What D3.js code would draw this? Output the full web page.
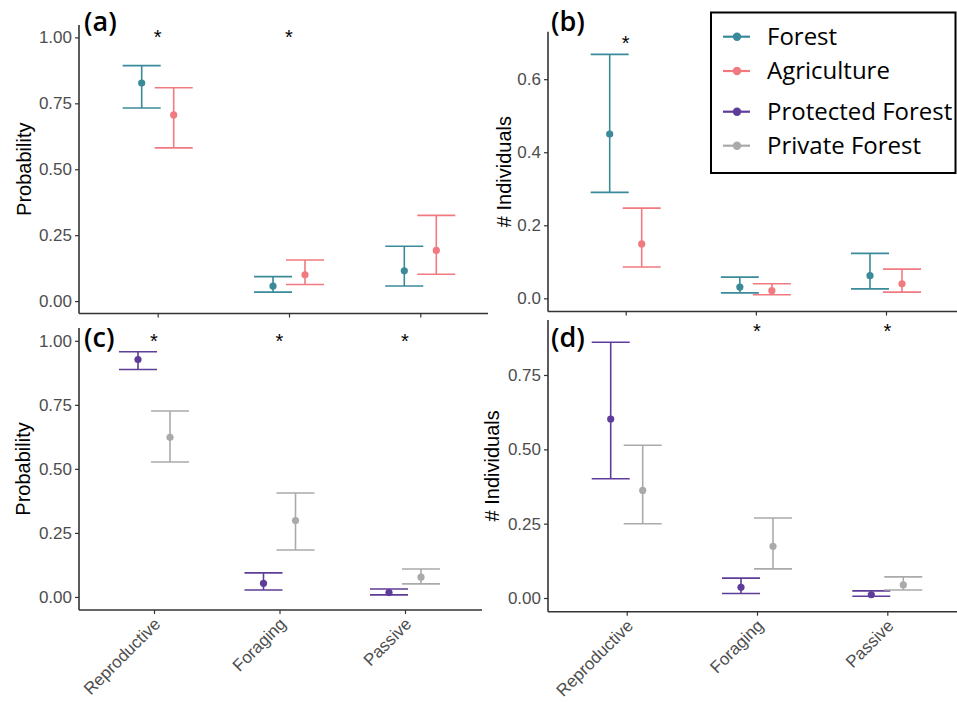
<!DOCTYPE html>
<html>
<head>
<meta charset="utf-8">
<script src="https://cdn.jsdelivr.net/npm/d3@7"></script>
<style>
  body { margin: 0; background: #fff; }
  svg { display: block; }
</style>
</head>
<body>
<svg width="957" height="702"></svg>
<script>
// categories on the x axis
const categories = ["Reproductive", "Foraging", "Passive"];

// each entry: [estimate, lower CI, upper CI]
const probForest = [[0.827, 0.732, 0.893], [0.057, 0.034, 0.093], [0.115, 0.057, 0.208]];
const probAgri = [[0.706, 0.581, 0.809], [0.100, 0.063, 0.156], [0.192, 0.102, 0.325]];
const indivForest = [[0.450, 0.290, 0.668], [0.031, 0.015, 0.058], [0.062, 0.026, 0.123]];
const indivAgri = [[0.149, 0.086, 0.247], [0.021, 0.010, 0.040], [0.040, 0.017, 0.080]];
const probProtected = [[0.927, 0.888, 0.957], [0.053, 0.027, 0.094], [0.017, 0.008, 0.031]];
const probPrivate = [[0.623, 0.527, 0.726], [0.298, 0.183, 0.406], [0.077, 0.051, 0.109]];
const indivProtected = [[0.602, 0.401, 0.860], [0.036, 0.015, 0.067], [0.011, 0.006, 0.024]];
const indivPrivate = [[0.362, 0.250, 0.514], [0.174, 0.098, 0.269], [0.044, 0.027, 0.071]];

// significance stars per category
const sigA = [true, true, false];
const sigB = [true, false, false];
const sigC = [true, true, true];
const sigD = [false, true, true];

// y tick values
const ticksProb = [0, 0.25, 0.5, 0.75, 1];
const ticksIndivB = [0, 0.2, 0.4, 0.6];
const ticksIndivD = [0, 0.25, 0.5, 0.75];

const legendLabels = ["Forest", "Agriculture", "Protected Forest", "Private Forest"];
const colors = {
    "Forest": "#3a8a9a",
    "Agriculture": "#f07a7f",
    "Protected Forest": "#5e3c99",
    "Private Forest": "#aaaaaa"
};

const svg = d3.select("svg");

const panels = [
    { tag: "(a)", title: "Probability", series: [["Forest", probForest], ["Agriculture", probAgri]],
      sig: sigA, starY: 1.016, ticks: ticksProb, fmt: ".2f", yDomain: [-0.047, 1.047],
      left: 79, right: 488, top: 25, bottom: 313.5, cats: [157.7, 420.3], titleX: 31,
      tagX: 84, tagY: 31 },
    { tag: "(b)", title: "# Individuals", series: [["Forest", indivForest], ["Agriculture", indivAgri]],
      sig: sigB, starY: 0.71, ticks: ticksIndivB, fmt: ".1f", yDomain: [-0.036, 0.73],
      left: 548, right: 957, top: 31.7, bottom: 311.5, cats: [625.7, 886], titleX: 511,
      tagX: 551, tagY: 31 },
    { tag: "(c)", title: "Probability", series: [["Protected Forest", probProtected], ["Private Forest", probPrivate]],
      sig: sigC, starY: 1.016, ticks: ticksProb, fmt: ".2f", yDomain: [-0.051, 1.05],
      left: 79, right: 482, top: 328, bottom: 610, cats: [154, 405], titleX: 30,
      tagX: 84, tagY: 347, xLabels: true },
    { tag: "(d)", title: "# Individuals", series: [["Protected Forest", indivProtected], ["Private Forest", indivPrivate]],
      sig: sigD, starY: 0.912, ticks: ticksIndivD, fmt: ".2f", yDomain: [-0.046, 0.935],
      left: 548, right: 957, top: 320, bottom: 611.7, cats: [626.7, 887.3], titleX: 499,
      tagX: 551, tagY: 347, xLabels: true }
];

const dodge = 16;
const capHalf = 19;

panels.forEach(p => {
    const g = svg.append("g");

    const x = d3.scalePoint()
        .domain(categories)
        .range(p.cats);

    const y = d3.scaleLinear()
        .domain(p.yDomain)
        .range([p.bottom, p.top]);

    // Y axis
    const yAxis = g.append("g")
        .attr("transform", `translate(${p.left},0)`)
        .call(d3.axisLeft(y).tickValues(p.ticks).tickFormat(d3.format(p.fmt)).tickSize(4).tickPadding(3));
    yAxis.select(".domain").remove();
    yAxis.selectAll("line").attr("stroke", "#333").attr("stroke-width", 1.2);
    yAxis.selectAll("text")
        .attr("fill", "#4d4d4d")
        .style("font-family", "'Liberation Sans', Arial, sans-serif")
        .style("font-size", "17px");

    // X axis
    const xAxis = g.append("g")
        .attr("transform", `translate(0,${p.bottom})`)
        .call(d3.axisBottom(x).tickSize(4).tickFormat(p.xLabels ? null : ""));
    xAxis.select(".domain").remove();
    xAxis.selectAll("line").attr("stroke", "#333").attr("stroke-width", 1.2);
    if (p.xLabels) {
        xAxis.selectAll("text")
            .attr("fill", "#4d4d4d")
            .style("font-family", "'Liberation Sans', Arial, sans-serif")
            .style("font-size", "17px")
            .attr("text-anchor", "end")
            .attr("y", 0)
            .attr("dy", 0)
            .attr("transform", "translate(7,15) rotate(-45)");
    }

    // axis lines
    g.append("line")
        .attr("x1", p.left).attr("x2", p.left)
        .attr("y1", p.top).attr("y2", p.bottom)
        .attr("stroke", "#333").attr("stroke-width", 1.6);
    g.append("line")
        .attr("x1", p.left).attr("x2", p.right)
        .attr("y1", p.bottom).attr("y2", p.bottom)
        .attr("stroke", "#333").attr("stroke-width", 1.6);

    // axis title
    g.append("text")
        .attr("transform", `translate(${p.titleX},${(p.top + p.bottom) / 2}) rotate(-90)`)
        .attr("text-anchor", "middle")
        .style("font-family", "'Liberation Sans', Arial, sans-serif")
        .style("font-size", "20px")
        .attr("fill", "#000")
        .text(p.title);

    // error bars + points
    p.series.forEach(([name, vals], si) => {
        const off = si === 0 ? -dodge : dodge;
        const col = colors[name];
        const sg = g.append("g");
        vals.forEach((v, i) => {
            const cx = x(categories[i]) + off;
            sg.append("line")
                .attr("x1", cx).attr("x2", cx)
                .attr("y1", y(v[1])).attr("y2", y(v[2]))
                .attr("stroke", col).attr("stroke-width", 1.6);
            sg.append("line")
                .attr("x1", cx - capHalf).attr("x2", cx + capHalf)
                .attr("y1", y(v[2])).attr("y2", y(v[2]))
                .attr("stroke", col).attr("stroke-width", 1.6);
            sg.append("line")
                .attr("x1", cx - capHalf).attr("x2", cx + capHalf)
                .attr("y1", y(v[1])).attr("y2", y(v[1]))
                .attr("stroke", col).attr("stroke-width", 1.6);
            sg.append("circle")
                .attr("cx", cx).attr("cy", y(v[0]))
                .attr("r", 3.6)
                .attr("fill", col);
        });
    });

    // significance stars
    g.selectAll(".star")
        .data(categories.filter((c, i) => p.sig[i]))
        .enter().append("text")
        .attr("x", d => x(d))
        .attr("y", y(p.starY) + 11)
        .attr("text-anchor", "middle")
        .style("font-family", "'Liberation Sans', Arial, sans-serif")
        .style("font-size", "20px")
        .text("*");

    // panel tag
    g.append("text")
        .attr("x", p.tagX)
        .attr("y", p.tagY)
        .style("font-family", "'Open Sans', sans-serif")
        .style("font-size", "27px")
        .style("font-weight", 600)
        .text(p.tag);
});

// Legend
const legend = svg.append("g");
legend.append("rect")
    .attr("x", 711).attr("y", 12.5)
    .attr("width", 244.5).attr("height", 160.5)
    .attr("fill", "#fff")
    .attr("stroke", "#000")
    .attr("stroke-width", 2);

const legendY = d3.scaleOrdinal()
    .domain(legendLabels)
    .range([36.7, 71, 111.7, 145.7]);

legendLabels.forEach(name => {
    const ly = legendY(name);
    legend.append("line")
        .attr("x1", 723).attr("x2", 750)
        .attr("y1", ly).attr("y2", ly)
        .attr("stroke", colors[name]).attr("stroke-width", 2.2);
    legend.append("circle")
        .attr("cx", 737).attr("cy", ly).attr("r", 4.2)
        .attr("fill", colors[name]);
    legend.append("text")
        .attr("x", 767).attr("y", ly)
        .attr("dy", "0.35em")
        .style("font-family", "'Open Sans', sans-serif")
        .style("font-size", "24px")
        .text(name);
});
</script>
</body>
</html>
